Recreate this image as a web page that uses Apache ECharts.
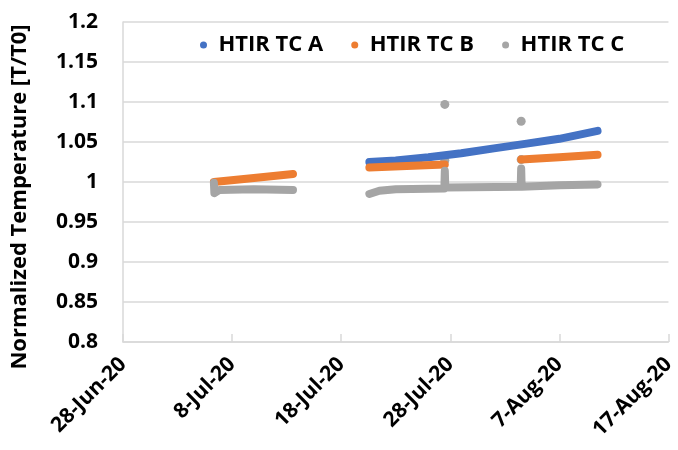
<!DOCTYPE html>
<html>
<head>
<meta charset="utf-8">
<script src="https://cdn.jsdelivr.net/npm/echarts@6/dist/echarts.min.js"></script>
<style>
  html, body { margin: 0; padding: 0; background: #fff; }
  #main { width: 678px; height: 450px; }
</style>
</head>
<body>
<div id="main"></div>
<script>
var chartDom = document.getElementById('main');
var myChart = echarts.init(chartDom);
var option;

// x axis: days counted from 28-Jun-20
var startDate = '2020-06-28T00:00Z';
var xTicks = ['28-Jun-20', '8-Jul-20', '18-Jul-20', '28-Jul-20', '7-Aug-20', '17-Aug-20'];
var yMin = 0.8, yMax = 1.2, yStep = 0.05;

var seriesNames = ['HTIR TC A', 'HTIR TC B', 'HTIR TC C'];
var colors = ['#4472c4', '#ed7d31', '#a5a5a5'];

// HTIR TC A
var tcA = [
  ['2020-07-20T14:00Z', 1.025],
  ['2020-07-23T00:00Z', 1.027],
  ['2020-07-26T00:00Z', 1.031],
  ['2020-07-29T00:00Z', 1.036],
  ['2020-08-01T00:00Z', 1.042],
  ['2020-08-04T00:00Z', 1.048],
  ['2020-08-07T00:00Z', 1.054],
  ['2020-08-10T12:00Z', 1.064]
];

// HTIR TC B (three runs)
var tcB1 = [
  ['2020-07-06T08:00Z', 1.000],
  ['2020-07-10T00:00Z', 1.005],
  ['2020-07-13T14:00Z', 1.010]
];
var tcB2 = [
  ['2020-07-20T14:00Z', 1.018],
  ['2020-07-24T00:00Z', 1.020],
  ['2020-07-27T12:00Z', 1.022]
];
var tcB3 = [
  ['2020-08-03T12:00Z', 1.028],
  ['2020-08-07T00:00Z', 1.031],
  ['2020-08-10T12:00Z', 1.034]
];

// HTIR TC C (two runs + stray readings)
var tcC1 = [
  ['2020-07-06T08:00Z', 0.999],
  ['2020-07-06T09:00Z', 0.986],
  ['2020-07-06T20:00Z', 0.990],
  ['2020-07-10T00:00Z', 0.991],
  ['2020-07-13T14:00Z', 0.990]
];
var tcC2 = [
  ['2020-07-20T14:00Z', 0.985],
  ['2020-07-21T12:00Z', 0.989],
  ['2020-07-23T00:00Z', 0.991],
  ['2020-07-27T11:00Z', 0.992],
  ['2020-07-27T12:00Z', 1.014],
  ['2020-07-27T13:00Z', 0.993],
  ['2020-08-03T11:00Z', 0.994],
  ['2020-08-03T12:00Z', 1.017],
  ['2020-08-03T13:00Z', 0.994],
  ['2020-08-07T00:00Z', 0.996],
  ['2020-08-10T12:00Z', 0.997]
];
var tcCStray = [
  ['2020-07-27T12:00Z', 1.097],
  ['2020-07-27T12:00Z', 1.027],
  ['2020-08-03T12:00Z', 1.076],
  ['2020-08-03T12:00Z', 1.028]
];

var t0 = Date.parse(startDate);
function toDays(d) {
  return d.map(function (p) { return [(Date.parse(p[0]) - t0) / 86400000, p[1]]; });
}

function lineSeries(name, data, color) {
  return {
    name: name,
    type: 'line',
    data: toDays(data),
    showSymbol: false,
    silent: true,
    color: color,
    lineStyle: { width: 8, color: color, cap: 'round', join: 'round' }
  };
}

var font = '"Open Sans", sans-serif';

option = {
  animation: false,
  grid: { left: 123, right: 5, top: 22, bottom: 108 },
  legend: {
    data: seriesNames.map(function (n, i) {
      return { name: n, itemStyle: { color: colors[i] } };
    }),
    top: 29,
    left: 195,
    icon: 'circle',
    itemWidth: 20,
    itemHeight: 7,
    itemGap: 28,
    textStyle: { fontFamily: font, fontSize: 22, fontWeight: 'bold', color: '#000' }
  },
  xAxis: {
    type: 'value',
    min: 0,
    max: 50,
    interval: 10,
    axisLine: { show: true, lineStyle: { color: '#d9d9d9', width: 1.5 } },
    axisTick: { show: true, inside: true, length: 8, lineStyle: { color: '#d9d9d9', width: 1.5 } },
    splitLine: { show: false },
    axisLabel: {
      rotate: 45,
      margin: 19,
      fontFamily: font,
      fontSize: 21,
      fontWeight: 'bold',
      color: '#000',
      formatter: function (v) { return xTicks[Math.round(v / 10)]; }
    }
  },
  yAxis: {
    type: 'value',
    min: yMin,
    max: yMax,
    interval: yStep,
    name: 'Normalized Temperature [T/T0]',
    nameLocation: 'middle',
    nameGap: 92,
    nameTextStyle: {
      fontFamily: font, fontSize: 22, fontWeight: 'bold', color: '#000',
      padding: [0, 30, 0, 0]
    },
    axisLine: { show: true, lineStyle: { color: '#d9d9d9', width: 1.5 } },
    axisTick: { show: false },
    splitLine: { lineStyle: { color: '#d9d9d9', width: 1.5 } },
    axisLabel: {
      margin: 25,
      fontFamily: font,
      fontSize: 21,
      fontWeight: 'bold',
      color: '#000',
      formatter: function (v) { return String(parseFloat(v.toFixed(2))); }
    }
  },
  series: [
    lineSeries(seriesNames[0], tcA, colors[0]),
    lineSeries(seriesNames[1], tcB1, colors[1]),
    lineSeries(seriesNames[1], tcB2, colors[1]),
    lineSeries(seriesNames[1], tcB3, colors[1]),
    lineSeries(seriesNames[2], tcC1, colors[2]),
    lineSeries(seriesNames[2], tcC2, colors[2]),
    {
      name: seriesNames[2],
      type: 'scatter',
      data: toDays(tcCStray),
      symbolSize: 9,
      silent: true,
      itemStyle: { color: colors[2], opacity: 1 }
    }
  ]
};

option && myChart.setOption(option);
</script>
</body>
</html>
